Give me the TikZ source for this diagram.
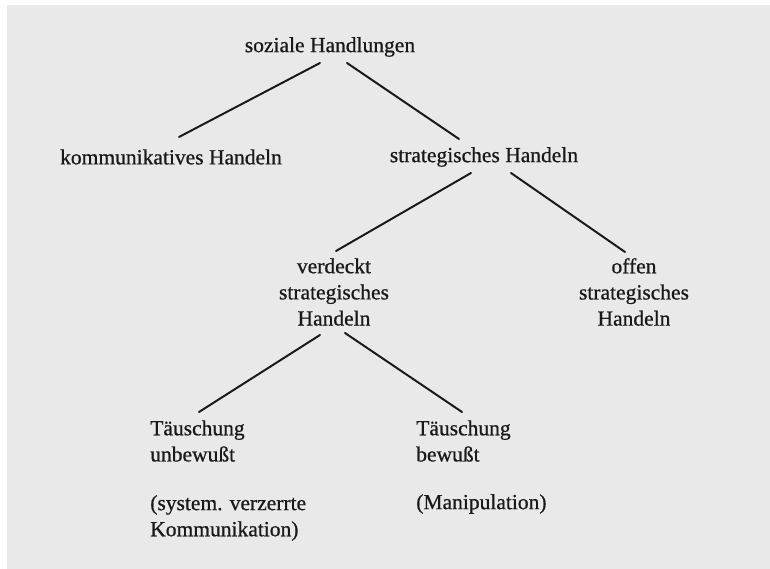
\documentclass[tikz,border=0pt]{standalone}
\usepackage{fontspec}
\setmainfont{Liberation Serif}[FakeBold=0.7]
\definecolor{papier}{RGB}{233,233,233}
\tikzset{
  begriff/.style={inner sep=0pt, text=black!90, font=\fontsize{15.3}{18.6}\selectfont},
  zweig/.style={line width=1.4pt, line cap=round, black!90}
}
\begin{document}
\begin{tikzpicture}[x=0.025cm, y=-0.025cm]

    % Papier
    \useasboundingbox (0,0) rectangle (770,569);
    \fill[white] (0,0) rectangle (770,569);
    \fill[papier] (7,5) rectangle (770,569);

    % Begriffe
    \node[begriff] (soz) at (330,47) {soziale Handlungen};
    \node[begriff] (komm) at (171,157) {kommunikatives Handeln};
    \node[begriff] (strat) at (484,157) {strategisches Handeln};
    \node[begriff, align=center] (verd) at (334,292) {verdeckt\\strategisches\\Handeln};
    \node[begriff, align=center] (offen) at (634,292) {offen\\strategisches\\Handeln};
    \node[begriff, align=left, anchor=west] (tu) at (150,441) {Täuschung\\unbewußt};
    \node[begriff, align=left, anchor=west] (tb) at (416,441) {Täuschung\\bewußt};
    \node[begriff, align=left, anchor=west] (sv) at (150,518) {(system. verzerrte\\Kommunikation)};
    \node[begriff, anchor=west] (mp) at (416,504) {(Manipulation)};

    % Verzweigungen
    \foreach \von/\sa/\nach/\sb in {
        soz.center/{(-10,16)}/komm.center/{(8,-20)},
        soz.center/{(17,16)}/strat.center/{(-25,-18)},
        strat.center/{(-13,16)}/verd.center/{(2,-41)},
        strat.center/{(27,16)}/offen.center/{(-9,-40)},
        verd.center/{(-14,43)}/tu.west/{(49,-29)},
        verd.center/{(11,41)}/tb.west/{(46,-29)}} {
        \draw[zweig] ([shift=\sa]\von) -- ([shift=\sb]\nach);
    }

\end{tikzpicture}
\end{document}
